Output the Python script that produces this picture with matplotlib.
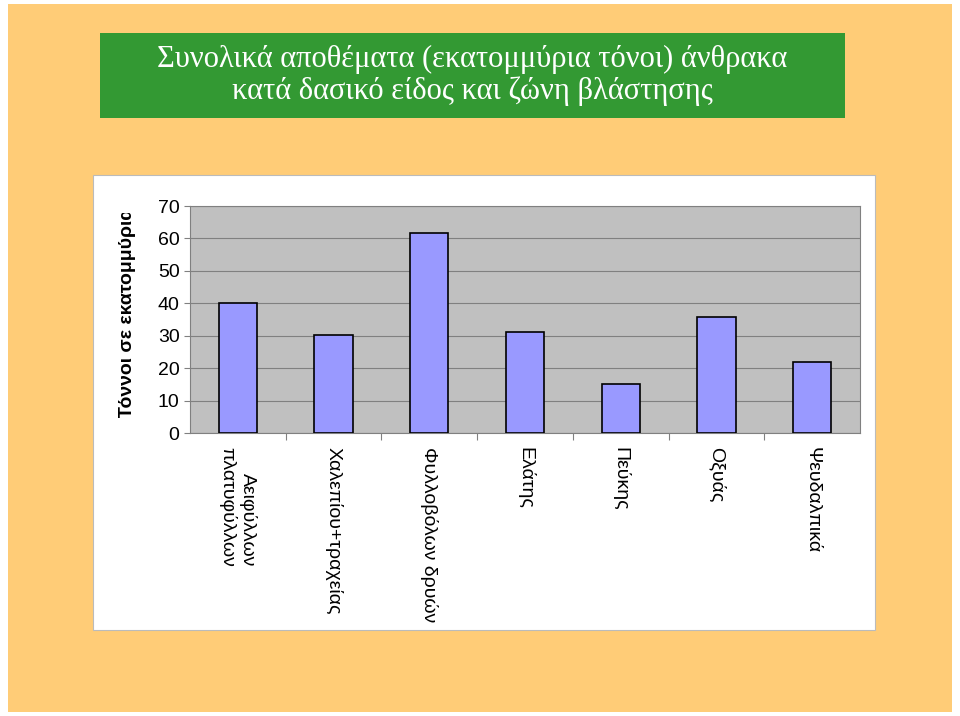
import matplotlib.pyplot as plt
import matplotlib.patches as mpatches
from matplotlib.transforms import Bbox

categories = ['Αειφύλλων\nπλατυφύλλων', 'Χαλεπίου+τραχείας', 'Φυλλοβόλων δρυών',
              'Ελάτης', 'Πεύκης', 'Οξυάς', 'Ψευδαλπικά']
values = [40.1, 30.2, 61.7, 31.1, 15.1, 35.8, 21.9]
yticks = [0, 10, 20, 30, 40, 50, 60, 70]

fig = plt.figure(figsize=(9.6, 7.16), dpi=100)
fig.patch.set_facecolor('white')
W, H = 960, 716

def px(x0, y0, x1, y1):
    return (x0 / W, 1 - y1 / H, (x1 - x0) / W, (y1 - y0) / H)

# orange background
x, y, w, h = px(8, 4, 952, 712)
fig.patches.append(mpatches.Rectangle((x, y), w, h, transform=fig.transFigure,
                                      facecolor='#FFCC77', edgecolor='none', zorder=0))
# green title box
x, y, w, h = px(100, 33, 845, 118)
fig.patches.append(mpatches.Rectangle((x, y), w, h, transform=fig.transFigure,
                                      facecolor='#339933', edgecolor='none', zorder=1))
fig.text(472 / W, 1 - 75 / H,
         'Συνολικά αποθέματα (εκατομμύρια τόνοι) άνθρακα\nκατά δασικό είδος και ζώνη βλάστησης',
         color='white', ha='center', va='center', fontsize=22,
         family='Liberation Serif', linespacing=1.1, zorder=2)
# white chart panel
x, y, w, h = px(93, 175, 875, 630)
fig.patches.append(mpatches.Rectangle((x, y), w, h, transform=fig.transFigure,
                                      facecolor='white', edgecolor='#BBBBBB', lw=0.8, zorder=1))

ax = fig.add_axes(px(190, 206, 860, 433))
ax.set_zorder(3)
ax.set_facecolor('#C0C0C0')
pos = list(range(len(categories)))
ax.bar(pos, values, width=0.4, color='#9999FF', edgecolor='black', lw=1.2, zorder=3)
ax.set_xlim(-0.5, len(categories) - 0.5)
ax.set_ylim(0, 70)
ax.set_yticks(yticks)
ax.yaxis.grid(True, color='#808080', lw=0.8, zorder=1)
ax.set_axisbelow(True)
ax.tick_params(axis='y', labelsize=14, length=4, color='#808080')
for t in ax.get_yticklabels():
    t.set_family('Liberation Sans')
ax.set_xticks([p + 0.5 for p in pos[:-1]])
ax.set_xticklabels([])
ax.tick_params(axis='x', length=5, color='#808080')
for p, c in zip(pos, categories):
    ax.text(p, -0.06, c, transform=ax.get_xaxis_transform(), rotation=-90,
            ha='center', va='top', fontsize=14, family='Liberation Sans',
            multialignment='right')
for s in ax.spines.values():
    s.set_color('#808080')

yl = fig.text(127 / W, 1 - 313 / H, 'Τόννοι σε εκατομμύρια', rotation=90,
              ha='center', va='center', fontsize=14, fontweight='bold',
              family='Liberation Sans', zorder=4)
yl.set_clip_box(Bbox.from_extents(100, 716 - 418, 160, 716 - 213))
yl.set_clip_on(True)

fig.savefig('out.png', dpi=100)
